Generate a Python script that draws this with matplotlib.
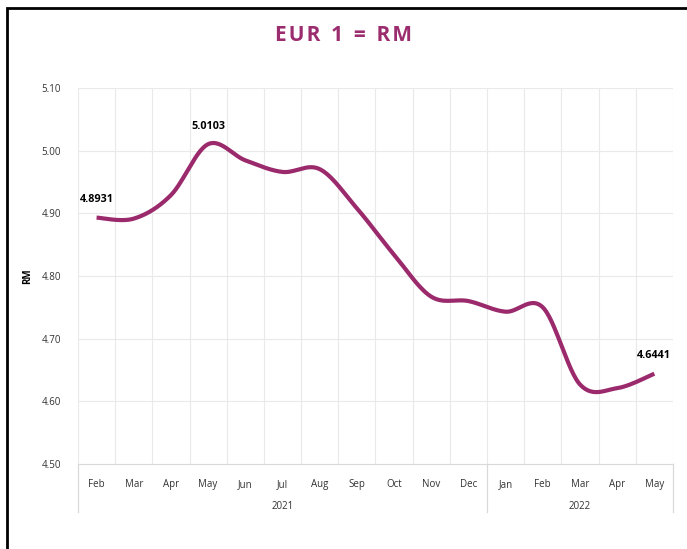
import numpy as np
import matplotlib
matplotlib.use("Agg")
from matplotlib import pyplot as plt
from matplotlib.patches import Rectangle
from matplotlib.lines import Line2D

months = ['Feb', 'Mar', 'Apr', 'May', 'Jun', 'Jul', 'Aug', 'Sep', 'Oct', 'Nov', 'Dec',
          'Jan', 'Feb', 'Mar', 'Apr', 'May']
years = ['2021', '2022']
year_counts = [11, 5]
rates = [4.8931, 4.8915, 4.9290, 5.0103, 4.9845, 4.9660, 4.9705, 4.9080, 4.8340,
         4.7670, 4.7600, 4.7430, 4.7500, 4.6270, 4.6210, 4.6441]
labelled = {0: '4.8931', 3: '5.0103', 15: '4.6441'}

LINE = '#9B2A6C'
GRID = '#E9E9E9'
plt.rcParams['font.family'] = ['Open Sans', 'DejaVu Sans']


def smooth(x, y, n=30):
    # catmull-rom style curve through the points, like the office "smoothed line"
    x = np.asarray(x, float)
    y = np.asarray(y, float)
    px = np.concatenate([[x[0]], x, [x[-1]]])
    py = np.concatenate([[y[0]], y, [y[-1]]])
    xs, ys = [], []
    for i in range(1, len(px) - 2):
        p0, p1, p2, p3 = (np.array([px[j], py[j]]) for j in range(i - 1, i + 3))
        c1 = p1 + (p2 - p0) / 6
        c2 = p2 - (p3 - p1) / 6
        t = np.linspace(0, 1, n)[:, None]
        pts = (1 - t) ** 3 * p1 + 3 * (1 - t) ** 2 * t * c1 + 3 * (1 - t) * t ** 2 * c2 + t ** 3 * p2
        xs.extend(pts[:, 0])
        ys.extend(pts[:, 1])
    return np.array(xs), np.array(ys)


fig = plt.figure(figsize=(6.87, 5.49), dpi=100)
ax = fig.add_axes([0.1135, 0.1548, 0.866, 0.685])

n = len(rates)
x = np.arange(n)
sx, sy = smooth(x, rates)
ax.plot(sx, sy, color=LINE, lw=3, solid_capstyle='butt', zorder=3)

for i, txt in labelled.items():
    ax.annotate(txt, (x[i], rates[i]), xytext=(0, 9), textcoords='offset points',
                ha='center', va='bottom', fontsize=7.8, fontweight='bold', color='black')

ax.set_xlim(-0.5, n - 0.5)
ax.set_ylim(4.5, 5.1)
ax.set_yticks(np.arange(4.5, 5.11, 0.1))
ax.set_yticklabels(['%.2f' % v for v in np.arange(4.5, 5.11, 0.1)], fontsize=7, color='#333333')
ax.set_xticks(x)
ax.set_xticklabels(months, fontsize=7, color='#333333')
ax.tick_params(length=0, pad=11)
ax.tick_params(axis='y', pad=12)
ax.set_xticks(np.arange(-0.5, n, 1), minor=True)
ax.tick_params(which='minor', length=0)
ax.grid(which='major', axis='y', color=GRID, lw=0.8)
ax.grid(which='minor', axis='x', color=GRID, lw=0.8)
for s in ['top', 'right', 'left']:
    ax.spines[s].set_visible(False)
ax.spines['bottom'].set_color('#D9D9D9')
ax.set_ylabel('RM', fontsize=7, fontweight='bold', labelpad=6)

# year groups under the month labels
trans = ax.get_xaxis_transform()
start = -0.5
bounds = [start]
for name, cnt in zip(years, year_counts):
    mid = start + cnt / 2
    ax.text(mid, -0.112, name, transform=trans, ha='center', va='center', fontsize=7, color='#333333')
    start += cnt
    bounds.append(start)
for b in bounds:
    ax.add_line(Line2D([b, b], [0, -0.128], transform=trans, color='#D9D9D9', lw=0.9, clip_on=False))

fig.text(0.5, 0.935, 'E\u200aU\u200aR  1  =  R\u200aM', ha='center', va='center', fontsize=15,
         fontweight='bold', color='#9B2C6E')

# outer frame, cut off at the right and bottom like the source image
fig.patches.append(Rectangle((0.0102, -0.05), 1.1, 1.0354, transform=fig.transFigure,
                             fill=False, edgecolor='black', lw=2))

fig.savefig('out.png', dpi=100)
